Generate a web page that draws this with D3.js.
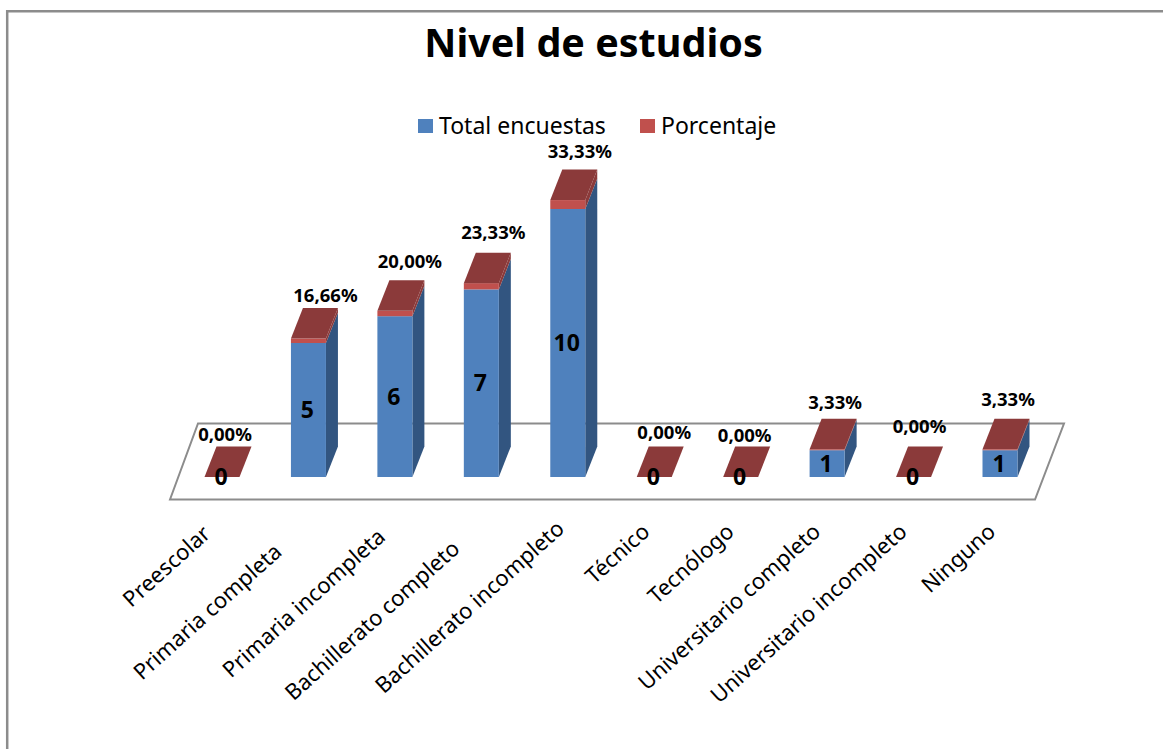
<!DOCTYPE html>
<html>
<head>
<meta charset="utf-8">
<script src="https://cdn.jsdelivr.net/npm/d3@7"></script>
<style>
  html, body { margin: 0; padding: 0; background: #fff; overflow: hidden; }
  text { font-family: "Noto Sans", "Open Sans", sans-serif; fill: #000; }
</style>
</head>
<body>
<div id="chart"></div>
<script>
const categories = [
  "Preescolar", "Primaria completa", "Primaria incompleta", "Bachillerato completo",
  "Bachillerato incompleto", "Técnico", "Tecnólogo", "Universitario completo",
  "Universitario incompleto", "Ninguno"
];
const totalEncuestas = [0, 5, 6, 7, 10, 0, 0, 1, 0, 1];
const porcentaje = [0, 0.1666, 0.2, 0.2333, 0.3333, 0, 0, 0.0333, 0, 0.0333];
const porcentajeLabels = ["0,00%", "16,66%", "20,00%", "23,33%", "33,33%", "0,00%", "0,00%", "3,33%", "0,00%", "3,33%"];
const seriesNames = ["Total encuestas", "Porcentaje"];

// the labels were moved by hand in the original, so each one has its own nudge
const pctNudge = [[3, -12], [17, -13], [15, -19], [12, -20], [12, -18], [10, -14], [4, -11], [8, -16], [6, -20], [8, -19]];
const catNudge = [[-15, 0], [-30, 18], [-13, 3], [-25, 15], [-7, -5], [-8, -2], [-10, -2], [-10, -2], [-10, -2], [-8, -2]];

const width = 1163, height = 749;
const depth = { x: 12, y: -30.5 };
const barWidth = 35;
const colors = {
  front: ["#4F81BD", "#C0504D"],
  side: ["#325580", "#8B3A3A"],
  top: "#8B3A3A",
  line: "#8C8C8C"
};

const svg = d3.select("#chart").append("svg")
  .attr("width", width)
  .attr("height", height);

// marco del gráfico
svg.append("path")
  .attr("d", `M7.2,${height} V11.3 H${width}`)
  .attr("fill", "none")
  .attr("stroke", colors.line)
  .attr("stroke-width", 2.5);

svg.append("text")
  .attr("x", 593.5)
  .attr("y", 57)
  .attr("text-anchor", "middle")
  .style("font-size", "39.5px")
  .style("font-weight", "bold")
  .text("Nivel de estudios");

const x = d3.scalePoint()
  .domain(categories)
  .range([222, 1000]);

const y = d3.scaleLinear()
  .domain([0, 10])
  .range([477, 209]);

// piso
svg.append("polygon")
  .attr("points", "170,499.5 198,423.5 1064,423.5 1035,499.5")
  .attr("fill", "#fff")
  .attr("stroke", colors.line)
  .attr("stroke-width", 2);

const rows = categories.map((c, i) => ({ c, total: totalEncuestas[i], pct: porcentaje[i] }));
const stacked = d3.stack().keys(["total", "pct"])(rows);

const poly = (pts) => pts.map((p) => p.join(",")).join(" ");

categories.forEach((c, i) => {
  const g = svg.append("g");
  const x0 = x(c) - barWidth / 2;
  const x1 = x0 + barWidth;

  stacked.forEach((layer, s) => {
    const [v0, v1] = layer[i];
    if (v1 === v0) return;
    g.append("polygon")
      .attr("points", poly([
        [x1, y(v0)], [x1 + depth.x, y(v0) + depth.y],
        [x1 + depth.x, y(v1) + depth.y], [x1, y(v1)]
      ]))
      .attr("fill", colors.side[s]);
    g.append("rect")
      .attr("x", x0)
      .attr("y", y(v1))
      .attr("width", barWidth)
      .attr("height", y(v0) - y(v1))
      .attr("fill", colors.front[s]);
  });

  // cara superior
  const topY = y(totalEncuestas[i] + porcentaje[i]);
  g.append("polygon")
    .attr("points", poly([
      [x0, topY], [x0 + depth.x, topY + depth.y],
      [x1 + depth.x, topY + depth.y], [x1, topY]
    ]))
    .attr("fill", colors.top);
});

// etiquetas de datos
categories.forEach((c, i) => {
  const mid = y(totalEncuestas[i] / 2);
  svg.append("text")
    .attr("x", x(c) - 1)
    .attr("y", mid)
    .attr("dy", "0.35em")
    .attr("text-anchor", "middle")
    .style("font-size", "23px")
    .style("font-weight", "bold")
    .text(totalEncuestas[i]);

  const topBack = y(totalEncuestas[i] + porcentaje[i]) + depth.y;
  svg.append("text")
    .attr("x", x(c) + pctNudge[i][0])
    .attr("y", topBack + pctNudge[i][1])
    .attr("dy", "0.35em")
    .attr("text-anchor", "middle")
    .style("font-size", "18.5px")
    .style("font-weight", "bold")
    .text(porcentajeLabels[i]);
});

// eje de categorías
const axis = svg.append("g")
  .attr("transform", "translate(0, 522)")
  .call(d3.axisBottom(x).tickSize(0));
axis.select(".domain").remove();
axis.selectAll("text")
  .style("font-size", "22px")
  .style("text-anchor", "end")
  .attr("dy", "0.7em")
  .attr("transform", (d, i) => `translate(${catNudge[i][0] - 8}, ${catNudge[i][1]}) rotate(-42)`);

// leyenda
const legendX = [418, 640];
seriesNames.forEach((name, i) => {
  svg.append("rect")
    .attr("x", legendX[i])
    .attr("y", 119)
    .attr("width", 15)
    .attr("height", 14)
    .attr("fill", colors.front[i]);
  svg.append("text")
    .attr("x", legendX[i] + 21)
    .attr("y", 134)
    .style("font-size", "23px")
    .text(name);
});
</script>
</body>
</html>
